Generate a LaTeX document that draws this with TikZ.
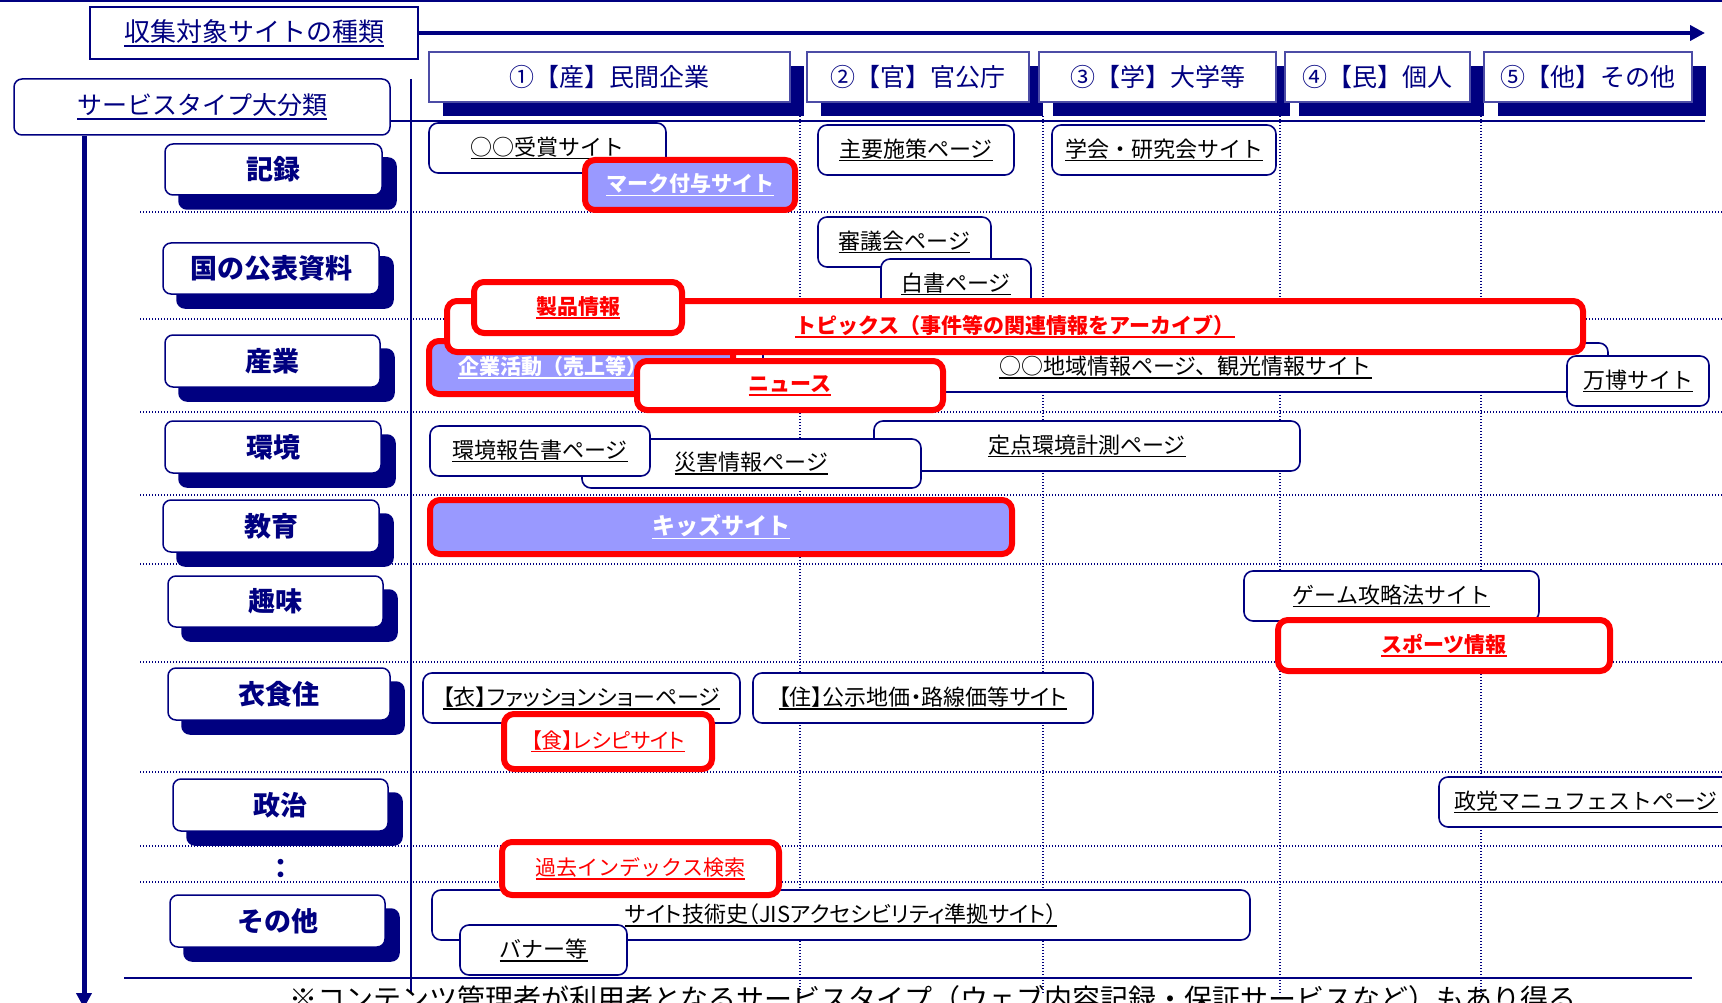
\documentclass[tikz,border=0pt]{standalone}
\usepackage{fontspec}
\setmainfont{Noto Sans CJK JP}
\newfontfamily\pfont{Noto Sans CJK JP}[RawFeature=+palt]
\usepackage{xcolor}
\usetikzlibrary{positioning, arrows.meta, calc, shadows}

\definecolor{navy}{RGB}{0,0,128}
\definecolor{lav}{RGB}{153,153,255}

% underline with a visible rule
\newcommand{\uln}[1]{\setbox0\hbox{#1}\leavevmode\rlap{\rule[-0.2em]{\wd0}{0.07em}}\box0}

\begin{document}
\begin{tikzpicture}[%
    x=1pt, y=-1pt,      % pixel grid, y downwards
    >={Triangle[length=15pt,width=15pt]},
    line width=1.5pt,
    grid/.style={navy, line width=1.2pt, dash pattern=on 1.2pt off 1.8pt},
    rule/.style={navy, line width=1.5pt},
    headbox/.style={draw=navy, line width=1.5pt, fill=white, inner sep=0pt, text=navy},
    colbox/.style={draw=navy!70, line width=1.5pt, fill=white, inner sep=0pt,
        minimum height=50pt, text=navy, font=\fontsize{25}{30}\selectfont,
        general shadow={fill=navy, draw=none, shadow xshift=14pt, shadow yshift=-14pt}},
    catbox/.style={draw=navy, line width=1.5pt, fill=white, rounded corners=8pt,
        inner sep=0pt, minimum height=51pt, text=navy,
        font=\fontsize{27}{32}\selectfont\bfseries,
        general shadow={fill=navy, draw=navy, shadow xshift=14pt, shadow yshift=-14pt}},
    sitebox/.style={draw=navy, line width=1.6pt, fill=white, rounded corners=9pt,
        inner sep=0pt, minimum height=50pt, text=black,
        font=\fontsize{22}{26}\selectfont},
    hotbox/.style={draw=red, line width=6pt, fill=white, rounded corners=10pt,
        inner sep=0pt, text=red, font=\fontsize{21}{25}\selectfont\bfseries},
    hotfill/.style={hotbox, fill=lav, text=white},
    hotplain/.style={hotbox, font=\fontsize{21}{25}\selectfont}
]
    \useasboundingbox (0,0) rectangle (1722,1003);

    % ==========================================
    % 1. Grid lines
    % ==========================================
    \draw[navy, line width=2pt] (0,1) -- (1722,1);
    \foreach \y in {212,319,412,495,564,662,772,846,882}
        \draw[grid] (140,\y) -- (1722,\y);
    \foreach \x in {800,1043,1280,1481}
        \draw[grid] (\x,116) -- (\x,993);
    \draw[rule] (411,79) -- (411,993);
    \draw[rule] (124,978) -- (1692,978);

    % ==========================================
    % 2. Axes
    % ==========================================
    \node[headbox, minimum width=328pt, minimum height=52pt,
        font=\fontsize{26}{30}\selectfont] (kind) at (254,33) {\uln{収集対象サイトの種類}};
    \coordinate (kindend) at (1705,33);
    \draw[navy, line width=4pt, ->] (kind.east) -- (kindend);

    \node[headbox, rounded corners=8pt, minimum width=376pt, minimum height=56pt,
        font=\fontsize{25}{30}\selectfont] (svc) at (202,107) {\uln{サービスタイプ大分類}};
    \coordinate (svcend) at (1705,121);
    \draw[rule] (svc.east |- svcend) -- (svcend);
    \coordinate (typeend) at (84,1008);
    \draw[navy, line width=5pt, ->] (svc.south -| typeend) -- (typeend);

    % ==========================================
    % 3. Column heads
    % ==========================================
    \node[colbox, minimum width=361pt] (sangyo) at (609.5,77) {①【産】民間企業};
    \node[colbox, minimum width=222pt] (kan)    at (918,77)   {②【官】官公庁};
    \node[colbox, minimum width=237pt] (gaku)   at (1157.5,77){③【学】大学等};
    \node[colbox, minimum width=185pt] (min)    at (1377.5,77){④【民】個人};
    \node[colbox, minimum width=208pt] (ta)     at (1588,77)  {⑤【他】その他};

    % ==========================================
    % 4. Row heads
    % ==========================================
    \node[catbox, minimum width=217pt] (kiroku)  at (273.5,169.5) {記録};
    \node[catbox, minimum width=216pt] (kokko)   at (271,268.5)   {国の公表資料};
    \node[catbox, minimum width=215pt, minimum height=52pt] (sangyo r) at (272.5,361) {産業};
    \node[catbox, minimum width=216pt, minimum height=52pt] (kankyo r) at (273,447) {環境};
    \node[catbox, minimum width=216pt, minimum height=52pt] (kyoiku)   at (271,526) {教育};
    \node[catbox, minimum width=215pt] (shumi)   at (275.5,601.5) {趣味};
    \node[catbox, minimum width=222pt, minimum height=52pt] (ishoku)   at (279,694) {衣食住};
    \node[catbox, minimum width=215pt, minimum height=52pt] (seiji)    at (280.5,805) {政治};
    \node[text=navy, font=\fontsize{27}{32}\selectfont\bfseries, inner sep=0pt] (dots) at (281,869) {：};
    \node[catbox, minimum width=215pt, minimum height=52pt] (sonota)   at (277.5,921) {その他};

    % ==========================================
    % 5. Sites
    % ==========================================
    % --- 記録 ---
    \node[sitebox, minimum width=237pt] (jusho)  at (547.5,148) {\uln{○○受賞サイト}};
    \node[hotfill, minimum width=210pt, minimum height=50pt] (mark) at (690,185) {\uln{マーク付与サイト}};
    \node[sitebox, minimum width=196pt] (shuyo)  at (916,150)   {\uln{主要施策ページ}};
    \node[sitebox, minimum width=224pt] (gakkai) at (1164,150)  {\uln{学会・研究会サイト}};

    % --- 国の公表資料 ---
    \node[sitebox, minimum width=173pt] (shingi)  at (904.5,242) {\uln{審議会ページ}};
    \node[sitebox, minimum width=150pt] (hakusho) at (956,284)   {\uln{白書ページ}};

    % --- 産業 ---
    \node[hotfill, minimum height=53pt, text width=246pt, inner xsep=29pt, align=left]
        (kigyo) at (581,367.5) {\uln{企業活動（売上等）}};
    \node[sitebox, minimum width=845pt, minimum height=49pt] (chiiki) at (1185.5,367.5)
        {\uln{○○地域情報ページ、観光情報サイト}};
    \node[hotbox, minimum width=1136pt, minimum height=51pt] (topics) at (1015,326.5)
        {\uln{トピックス（事件等の関連情報をアーカイブ）}};
    \node[hotbox, minimum width=208pt, minimum height=51pt] (seihin) at (578,307.5) {\uln{製品情報}};
    \node[hotbox, minimum width=306pt, minimum height=49pt] (news)   at (790,385.5) {\uln{ニュース}};
    \node[sitebox, minimum width=142pt] (banpaku) at (1638,381) {\uln{万博サイト}};

    % --- 環境 ---
    \node[sitebox, minimum width=426pt] (teiten) at (1087,446)    {\uln{定点環境計測ページ}};
    \node[sitebox, minimum width=339pt, minimum height=49pt] (saigai) at (751.5,463.5) {\uln{災害情報ページ}};
    \node[sitebox, minimum width=220pt] (hokoku) at (540,451)     {\uln{環境報告書ページ}};

    % --- 教育 ---
    \node[hotfill, minimum width=582pt, minimum height=54pt,
        font=\fontsize{23}{27}\selectfont\bfseries] (kids) at (721,527) {\uln{キッズサイト}};

    % --- 趣味 ---
    \node[sitebox, minimum width=295pt] (game) at (1391.5,596) {\uln{ゲーム攻略法サイト}};
    \node[hotbox, minimum width=332pt, minimum height=51pt] (sports) at (1444,645.5) {\uln{スポーツ情報}};

    % --- 衣食住 ---
    \node[sitebox, minimum width=317pt] (fashion) at (581.5,698) {\pfont\uln{【衣】ファッションショーページ}};
    \node[sitebox, minimum width=340pt] (chika)   at (923,698)   {\pfont\uln{【住】公示地価・路線価等サイト}};
    \node[hotplain, minimum width=208pt, minimum height=55pt] (recipe) at (608,741.5) {\pfont\uln{【食】レシピサイト}};

    % --- 政治 ---
    \node[sitebox, minimum width=294pt] (manifest) at (1586,802) {\uln{政党マニュフェストページ}};

    % --- その他 ---
    \node[sitebox, minimum width=818pt] (gijutsu) at (841,915)
        {\pfont\uln{サイト技術史（JISアクセシビリティ準拠サイト）}};
    \node[sitebox, minimum width=167pt] (banner) at (543.5,950) {\uln{バナー等}};
    \node[hotplain, minimum width=277pt, minimum height=53pt] (kako) at (640.5,868.5) {\uln{過去インデックス検索}};

    % ==========================================
    % 6. Note
    % ==========================================
    \node[anchor=north, inner sep=0pt, text=black, font=\fontsize{28}{32}\selectfont]
        (note) at (933,985) {※コンテンツ管理者が利用者となるサービスタイプ（ウェブ内容記録・保証サービスなど）もあり得る};

\end{tikzpicture}
\end{document}
